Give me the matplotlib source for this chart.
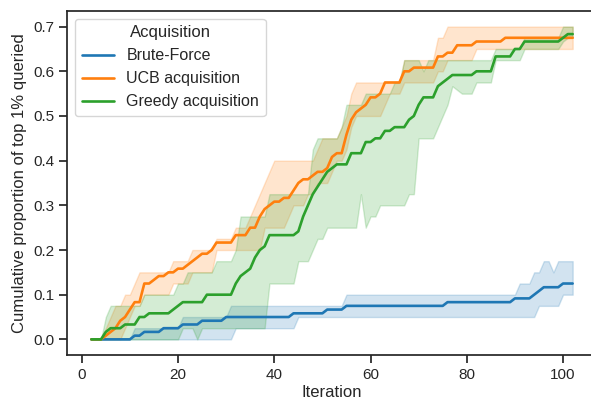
import numpy as np
import matplotlib
matplotlib.use("Agg")
import matplotlib.pyplot as plt
import seaborn as sns

# ---------------- data (change points: iteration where a new value starts) ----
iterations = np.arange(2, 103)

bf_mean_at = [2, 11, 13, 17, 21, 25, 30, 44, 51, 55, 76, 90, 94, 95, 96, 100]
bf_mean_val = [0, 0.0083, 0.0167, 0.025, 0.0333, 0.0417, 0.05, 0.0583, 0.0667,
               0.075, 0.0833, 0.0917, 0.1, 0.1083, 0.1167, 0.125]
bf_low_at = [2, 32, 45, 95, 100]
bf_low_val = [0, 0.025, 0.05, 0.075, 0.1]
bf_high_at = [2, 11, 21, 31, 55, 91, 94, 96, 98, 99]
bf_high_val = [0, 0.025, 0.05, 0.075, 0.1, 0.125, 0.15, 0.175, 0.15, 0.175]

ucb_mean_at = [2, 5, 6, 7, 8, 9, 10, 11, 13, 15, 16, 18, 20, 22, 23, 24, 25, 27,
               28, 32, 35, 37, 38, 39, 40, 42, 44, 45, 46, 48, 49, 51, 52, 53,
               55, 56, 57, 58, 59, 60, 62, 63, 67, 69, 74, 76, 78, 82, 88]
ucb_mean_val = [0, 0.0083, 0.0167, 0.025, 0.0417, 0.05, 0.0667, 0.0833, 0.125,
                0.1333, 0.1417, 0.15, 0.1583, 0.1667, 0.175, 0.1833, 0.1917, 0.2,
                0.2167, 0.2333, 0.25, 0.275, 0.2917, 0.3, 0.3083, 0.3167, 0.3333,
                0.35, 0.3583, 0.3667, 0.375, 0.3833, 0.4083, 0.4167, 0.4583,
                0.4917, 0.5083, 0.5167, 0.525, 0.5417, 0.55, 0.575, 0.6, 0.6083,
                0.6333, 0.6417, 0.6583, 0.6667, 0.675]
ucb_low_at = [2, 9, 10, 11, 13, 19, 23, 28, 38, 43, 44, 47, 49, 52, 53, 55, 56,
              57, 63, 64, 67, 74, 76, 82]
ucb_low_val = [0, 0.025, 0.05, 0.075, 0.1, 0.125, 0.15, 0.2, 0.25, 0.275, 0.3,
               0.325, 0.35, 0.375, 0.4, 0.425, 0.475, 0.5, 0.525, 0.55, 0.575,
               0.6, 0.625, 0.65]
ucb_high_at = [2, 5, 6, 7, 9, 11, 12, 19, 23, 28, 32, 35, 36, 37, 38, 39, 40, 49,
               50, 54, 55, 56, 57, 67, 74, 76]
ucb_high_val = [0, 0.025, 0.05, 0.075, 0.1, 0.125, 0.15, 0.175, 0.2, 0.225, 0.25,
                0.275, 0.3, 0.325, 0.35, 0.375, 0.4, 0.425, 0.45, 0.475, 0.5,
                0.55, 0.575, 0.625, 0.675, 0.7]

gr_mean_at = [2, 5, 6, 9, 12, 14, 19, 20, 21, 26, 32, 33, 34, 35, 36, 37, 38, 39,
              45, 46, 47, 48, 49, 50, 51, 52, 53, 56, 59, 61, 63, 65, 68, 69, 70,
              71, 74, 75, 76, 77, 82, 86, 90, 92, 100, 101]
gr_mean_val = [0, 0.0167, 0.025, 0.0333, 0.05, 0.0583, 0.0667, 0.075, 0.0833,
               0.1, 0.125, 0.1417, 0.15, 0.1583, 0.1833, 0.2, 0.2083, 0.2333,
               0.2417, 0.275, 0.3, 0.325, 0.3417, 0.3583, 0.375, 0.3833, 0.3917,
               0.4167, 0.4417, 0.45, 0.4667, 0.475, 0.4917, 0.5, 0.525, 0.5417,
               0.5667, 0.575, 0.5833, 0.5917, 0.6, 0.6333, 0.65, 0.6667, 0.675,
               0.6833]
gr_low_at = [2, 21, 24, 25, 39, 45, 48, 49, 51, 58, 59, 60, 62, 68, 70, 74, 75,
             76, 77, 78, 79, 82, 86, 92, 100, 101]
gr_low_val = [0, 0.025, 0, 0.025, 0.125, 0.175, 0.2, 0.225, 0.25, 0.325, 0.25,
              0.275, 0.3, 0.325, 0.45, 0.475, 0.5, 0.525, 0.5667, 0.5583, 0.55,
              0.575, 0.625, 0.65, 0.6667, 0.675]
gr_high_at = [2, 5, 6, 13, 20, 22, 28, 32, 33, 39, 48, 49, 54, 55, 59, 65, 67, 71,
              72, 86, 92, 100]
gr_high_val = [0, 0.05, 0.075, 0.1, 0.125, 0.15, 0.175, 0.2, 0.275, 0.325, 0.425,
               0.45, 0.475, 0.525, 0.55, 0.575, 0.625, 0.6, 0.625, 0.65, 0.675,
               0.7]

labels = ["Brute-Force", "UCB acquisition", "Greedy acquisition"]
colors = ["#1f77b4", "#ff7f0e", "#2ca02c"]


def expand(at, val):
    """Per-iteration values from the run-length listing above."""
    counts = np.diff(list(at) + [iterations[-1] + 1])
    return np.repeat(val, counts)


series = [
    (bf_mean_at, bf_mean_val, bf_low_at, bf_low_val, bf_high_at, bf_high_val),
    (ucb_mean_at, ucb_mean_val, ucb_low_at, ucb_low_val, ucb_high_at, ucb_high_val),
    (gr_mean_at, gr_mean_val, gr_low_at, gr_low_val, gr_high_at, gr_high_val),
]

# ---------------- style ----------------
sns.set_theme(style="ticks", context="notebook")
plt.rcParams["font.family"] = ["Liberation Sans", "DejaVu Sans"]

fig = plt.figure(figsize=(5.91, 4.0), dpi=100)
ax = fig.add_axes([0.1139, 0.1125, 0.8958, 0.86])

for (ma, mv, la, lv, ha, hv), lab, col in zip(series, labels, colors):
    mean = expand(ma, mv)
    low = expand(la, lv)
    high = expand(ha, hv)
    ax.plot(iterations, mean, color=col, lw=1.9, label=lab)
    ax.fill_between(iterations, low, high, color=col, alpha=0.2)

ax.set_xlabel("Iteration", labelpad=2)
ax.set_ylabel("Cumulative proportion of top 1% queried")
ax.set_xticks([0, 20, 40, 60, 80, 100])
ax.set_yticks([0.0, 0.1, 0.2, 0.3, 0.4, 0.5, 0.6, 0.7])
leg = ax.legend(title="Acquisition", loc="upper left", fontsize=11.5,
                title_fontsize=12)
for h in leg.legend_handles:
    h.set_linewidth(1.9)

fig.savefig("out.png", dpi=100)
